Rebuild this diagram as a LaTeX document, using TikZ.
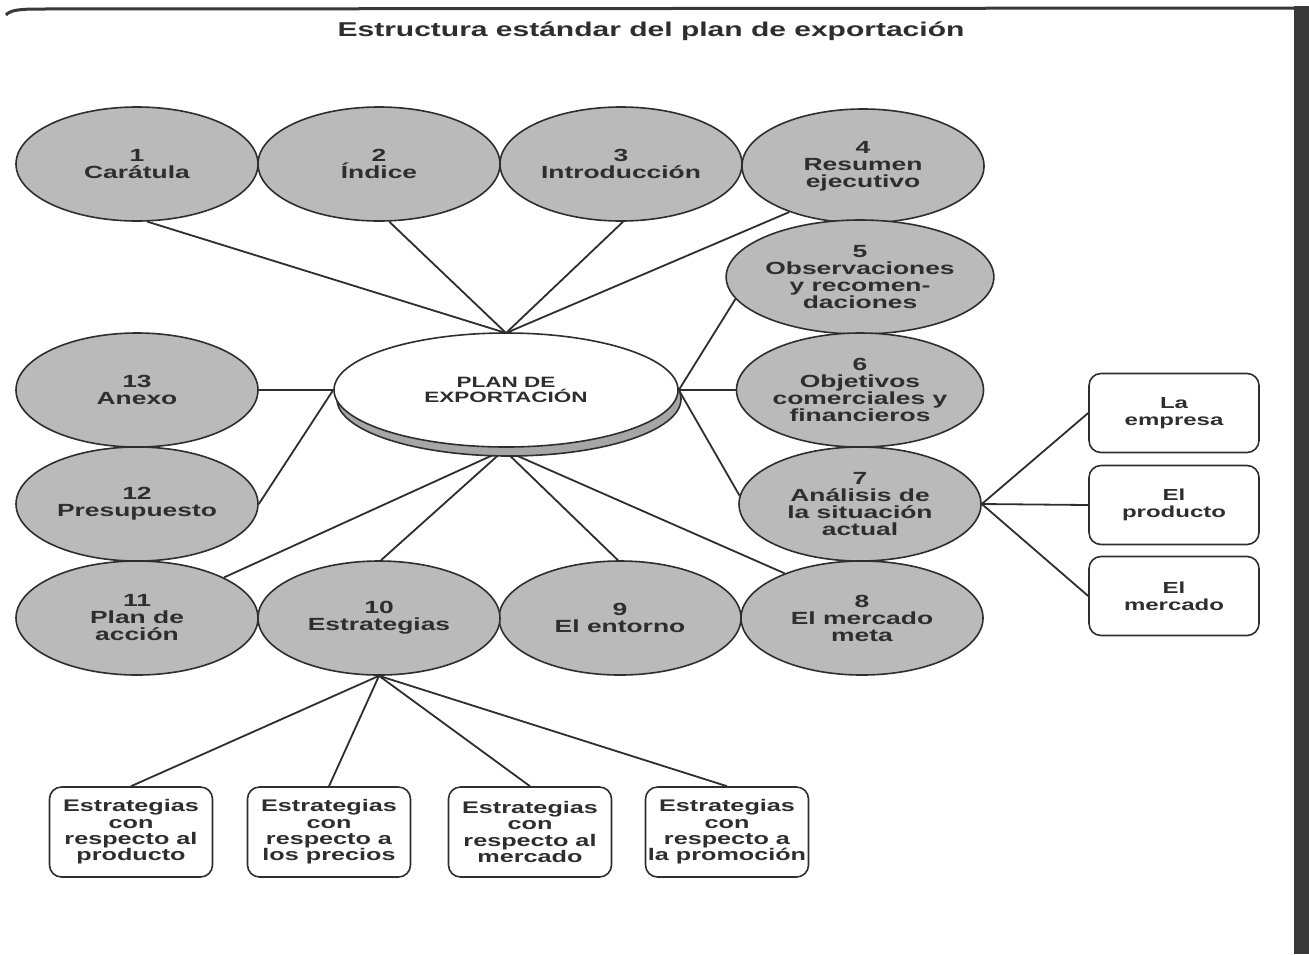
\documentclass[tikz,border=0pt]{standalone}
\usepackage{fontspec}
\setmainfont{Liberation Sans}
\newfontfamily\wf[FakeStretch=1.5]{Liberation Sans}
\usetikzlibrary{shapes.geometric}
\definecolor{ink}{HTML}{2E2E2E}
\definecolor{ballfill}{HTML}{BABABA}
\definecolor{shadowfill}{HTML}{A6A6A6}
\definecolor{edge}{HTML}{383838}
\pgfdeclarelayer{bg}
\pgfdeclarelayer{lines}
\pgfsetlayers{bg,lines,main}
\begin{document}
\begin{tikzpicture}[x=0.5pt,y=-0.5pt,
  ball/.style={ellipse, draw=ink, line width=0.8pt, fill=ballfill,
    minimum width=121pt, minimum height=57pt, inner sep=0pt, align=center,
    text=ink, font=\wf\bfseries\fontsize{8.8}{8.5}\selectfont},
  sidebox/.style={draw=ink, line width=0.8pt, rounded corners=6pt, fill=white,
    align=center, inner sep=0pt, text=ink,
    minimum width=85pt, minimum height=39.5pt,
    font=\wf\bfseries\fontsize{8}{8.5}\selectfont},
  stratbox/.style={draw=ink, line width=0.8pt, rounded corners=6pt, fill=white,
    align=center, inner sep=0pt, text=ink,
    minimum width=81.5pt, minimum height=45pt,
    font=\wf\bfseries\fontsize{8.4}{8.2}\selectfont},
  link/.style={draw=ink, line width=0.9pt}]
\useasboundingbox (0,0) rectangle (1309,954);
\begin{pgfonlayer}{bg}
  \fill[white] (0,0) rectangle (1309,954);
  \draw[edge, line width=1.5pt] (6,15) .. controls (10,10) and (20,9) .. (40,9) -- (1294,8);
  \fill[edge] (1294,6) rectangle (1309,954);
\end{pgfonlayer}

% title
\node[text=ink, font=\wf\bfseries\fontsize{10}{12}\selectfont] (title) at (651,31)
  {Estructura estándar del plan de exportación};

% top row
\node[ball] (e1) at (137,164) {1\\Carátula};
\node[ball] (e2) at (379,164) {2\\Índice};
\node[ball] (e3) at (621,164) {3\\Introducción};
\node[ball] (e4) at (863,166) {4\\Resumen\\ejecutivo};
% right column
\node[ball] (e5) at (860,277) {5\\Observaciones\\y recomen-\\daciones};
\node[ball] (e6) at (860,390) {6\\Objetivos\\comerciales y\\financieros};
\node[ball] (e7) at (860,504) {7\\Análisis de\\la situación\\actual};
% bottom row
\node[ball] (e8) at (862,618) {8\\El mercado\\meta};
\node[ball] (e9) at (620,618) {9\\El entorno};
\node[ball] (e10) at (379,618) {10\\Estrategias};
\node[ball] (e11) at (137,618) {11\\Plan de\\acción};
% left column
\node[ball] (e12) at (137,504) {12\\Presupuesto};
\node[ball] (e13) at (137,390) {13\\Anexo};

% central
\node[ellipse, draw=ink, line width=0.8pt, fill=shadowfill,
  minimum width=172pt, minimum height=57pt, inner sep=0pt] (cs) at (509,399) {};
\node[ellipse, draw=ink, line width=0.8pt, fill=white,
  minimum width=172pt, minimum height=57pt, inner sep=0pt, align=center,
  text=ink, font=\wf\bfseries\fontsize{7.5}{7.5}\selectfont] (c) at (506,390)
  {PLAN DE\\EXPORTACIÓN};

% right boxes
\node[sidebox] (r1) at (1174,413) {La\\empresa};
\node[sidebox] (r2) at (1174,505) {El\\producto};
\node[sidebox] (r3) at (1174,596) {El\\mercado};

% bottom boxes
\node[stratbox] (b1) at (131,832) {Estrategias\\con\\respecto al\\producto};
\node[stratbox] (b2) at (329,832) {Estrategias\\con\\respecto a\\los precios};
\node[stratbox] (b3) at (530,832) {Estrategias\\con\\respecto al\\mercado};
\node[stratbox] (b4) at (727,832) {Estrategias\\con\\respecto a\\la promoción};

\begin{pgfonlayer}{lines}
  \coordinate (ctop) at (506,333);
  \coordinate (cbot) at (504,450);
  \draw[link] (e1.-80) -- (ctop);
  \draw[link] (e2.-80) -- (ctop);
  \draw[link] (e3.-88) -- (ctop);
  \draw[link] (e4.212) -- (ctop);
  \draw[link] (e5.190) -- (c.east);
  \draw[link] (e6.west) -- (c.east);
  \draw[link] (e7.176) -- (c.east);
  \draw[link] (e13.east) -- (c.west);
  \draw[link] (e12.east) -- (c.west);
  \draw[link] (e11.25) -- (cbot);
  \draw[link] (e10.88) -- (cbot);
  \draw[link] (e9.92) -- (cbot);
  \draw[link] (e8.150) -- (cbot);
  \draw[link] (e7.east) -- (r1.west);
  \draw[link] (e7.east) -- (r2.west);
  \draw[link] (e7.east) -- (r3.west);
  \draw[link] (e10.south) -- (b1.north);
  \draw[link] (e10.south) -- (b2.north);
  \draw[link] (e10.south) -- (b3.north);
  \draw[link] (e10.south) -- (b4.north);
\end{pgfonlayer}
\end{tikzpicture}
\end{document}
